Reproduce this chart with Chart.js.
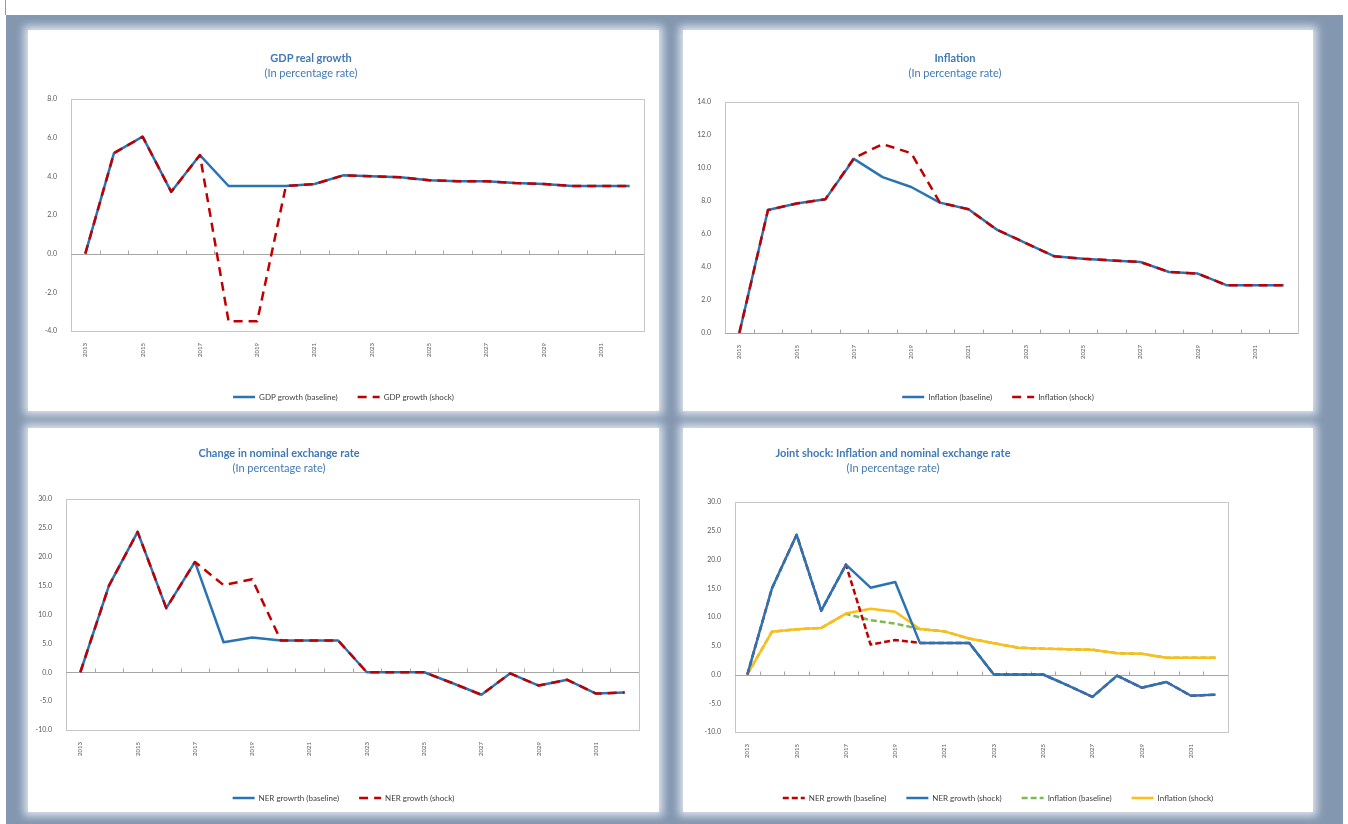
<!DOCTYPE html>
<html>
<head>
<meta charset="utf-8">
<script src="https://cdn.jsdelivr.net/npm/chart.js@4.4.1/dist/chart.umd.min.js"></script>
<style>
  body { margin:0; width:1348px; height:824px; background:#fff; position:relative; overflow:hidden; font-family: Lato, 'Open Sans', sans-serif; }
  #edge { position:absolute; left:5px; top:0; width:1px; height:15px; background:#9a9a9a; }
  #bg { position:absolute; left:6px; top:15px; width:1337px; height:809px; background:#8497b0; }
  .panel { position:absolute; background:#fff; box-shadow:0 0 8px 4px rgba(236,241,249,0.85); }
  .panel canvas { position:absolute; left:0; top:0; }
  .ttl { position:absolute; width:400px; margin-left:-200px; text-align:center; color:#4179b4; font-size:11px; line-height:15px; white-space:nowrap; }
  .ttl b { font-weight:700; }
</style>
</head>
<body>
<div id="edge"></div>
<div id="bg"></div>

<div class="panel" style="left:28px;top:30px;width:631px;height:381px">
  <canvas id="gdpChart" width="631" height="381"></canvas>
  <div class="ttl" style="left:283px;top:20px"><b>GDP real growth</b><br>(In percentage rate)</div>
</div>
<div class="panel" style="left:683px;top:30px;width:630px;height:381px">
  <canvas id="inflChart" width="630" height="381"></canvas>
  <div class="ttl" style="left:272px;top:20px"><b>Inflation</b><br>(In percentage rate)</div>
</div>
<div class="panel" style="left:28px;top:428px;width:631px;height:384px">
  <canvas id="nerChart" width="631" height="384"></canvas>
  <div class="ttl" style="left:251px;top:17px"><b>Change in nominal exchange rate</b><br>(In percentage rate)</div>
</div>
<div class="panel" style="left:683px;top:428px;width:630px;height:384px">
  <canvas id="jointChart" width="630" height="384"></canvas>
  <div class="ttl" style="left:210px;top:17px"><b>Joint shock: Inflation and nominal exchange rate</b><br>(In percentage rate)</div>
</div>

<script>
const years = ['2013', '2014', '2015', '2016', '2017', '2018', '2019', '2020', '2021', '2022',
  '2023', '2024', '2025', '2026', '2027', '2028', '2029', '2030', '2031', '2032'];

const gdpBaseline = [0.0, 5.2, 6.05, 3.2, 5.1, 3.5, 3.5, 3.5, 3.6, 4.05, 4.0, 3.95, 3.8, 3.75, 3.75, 3.65, 3.6, 3.5, 3.5, 3.5];
const gdpShock = [0.0, 5.2, 6.05, 3.2, 5.1, -3.5, -3.5, 3.5, 3.6, 4.05, 4.0, 3.95, 3.8, 3.75, 3.75, 3.65, 3.6, 3.5, 3.5, 3.5];

const inflBaseline = [0.0, 7.45, 7.85, 8.1, 10.55, 9.45, 8.85, 7.9, 7.5, 6.25, 5.45, 4.65, 4.5, 4.4, 4.3, 3.7, 3.6, 2.9, 2.9, 2.9];
const inflShock = [0.0, 7.45, 7.85, 8.1, 10.6, 11.45, 10.9, 7.9, 7.5, 6.25, 5.45, 4.65, 4.5, 4.4, 4.3, 3.7, 3.6, 2.9, 2.9, 2.9];

const nerBaseline = [0.0, 15.0, 24.3, 11.1, 19.1, 5.2, 6.0, 5.5, 5.5, 5.5, 0.0, 0.0, 0.0, -1.9, -3.9, -0.2, -2.3, -1.3, -3.7, -3.5];
const nerShock = [0.0, 15.0, 24.3, 11.1, 19.1, 15.1, 16.1, 5.5, 5.5, 5.5, 0.0, 0.0, 0.0, -1.9, -3.9, -0.2, -2.3, -1.3, -3.7, -3.5];

// y axis ticks: min, max, step
const gdpTicks = [-4, 8, 2];
const inflTicks = [0, 14, 2];
const nerTicks = [-10, 30, 5];

const BLUE = '#2a74b5';
const RED = '#c00000';
const GREEN = '#7dba4f';
const YELLOW = '#fdbf17';
const TEXT = '#595959';

Chart.defaults.font.family = 'Lato, "Open Sans", sans-serif';

// excel-like plot frame + zero axis with tick marks
const excelFrame = {
  id: 'excelFrame',
  beforeDatasetsDraw(chart) {
    const { ctx, chartArea: a, scales: { x, y } } = chart;
    ctx.save();
    ctx.lineWidth = 1;
    ctx.strokeStyle = '#c6c6c6';
    ctx.strokeRect(Math.round(a.left) + 0.5, Math.round(a.top) + 0.5, Math.round(a.right - a.left), Math.round(a.bottom - a.top));
    const y0 = Math.round(y.getPixelForValue(0)) + 0.5;
    const half = (x.getPixelForValue(1) - x.getPixelForValue(0)) / 2;
    ctx.strokeStyle = '#a6a6a6';
    ctx.beginPath();
    ctx.moveTo(a.left, y0);
    ctx.lineTo(a.right, y0);
    for (let i = 1; i < years.length; i++) {
      const px = Math.round(x.getPixelForValue(i) - half) + 0.5;
      ctx.moveTo(px, y0);
      ctx.lineTo(px, y0 - 4);
    }
    ctx.stroke();
    ctx.restore();
  }
};

function line(label, data, color, dash, order) {
  return {
    label, data,
    borderColor: color, backgroundColor: color,
    borderWidth: 2.5, borderDash: dash || [],
    pointRadius: 0, tension: 0, order,
    borderJoinStyle: 'round'
  };
}

function makeChart(id, datasets, ticks, box) {
  const [min, max, step] = ticks;
  return new Chart(document.getElementById(id), {
    type: 'line',
    data: { labels: years, datasets },
    plugins: [excelFrame],
    options: {
      responsive: false,
      animation: false,
      layout: { padding: { left: 0, top: box.top, right: 0, bottom: 0 } },
      plugins: {
        tooltip: { enabled: false },
        legend: {
          position: 'bottom',
          labels: {
            usePointStyle: true,
            pointStyle: 'line',
            pointStyleWidth: 22,
            padding: 20,
            font: { size: 8 },
            color: '#404040',
            generateLabels: chart => chart.data.datasets.map((d, i) => ({
              text: d.label,
              fillStyle: d.borderColor,
              strokeStyle: d.borderColor,
              lineWidth: d.borderWidth,
              lineDash: d.borderDash,
              pointStyle: 'line',
              fontColor: '#404040',
              hidden: false,
              datasetIndex: i
            }))
          }
        }
      },
      scales: {
        x: {
          offset: true,
          grid: { display: false },
          border: { display: false },
          ticks: {
            autoSkip: false, minRotation: 90, maxRotation: 90, padding: 4,
            font: { size: 6 }, color: TEXT,
            callback: (v, i) => (i % 2 === 0 ? years[i] : '')
          },
          afterFit: s => { s.height = box.xh; }
        },
        y: {
          min, max,
          grid: { display: false },
          border: { display: false },
          ticks: { stepSize: step, padding: 6, font: { size: 7 }, color: TEXT, callback: v => v.toFixed(1) },
          afterFit: s => { s.width = box.left; }
        },
        // empty right-hand axis, only reserves the blank margin right of the plot
        yRight: {
          position: 'right',
          grid: { display: false },
          border: { display: false },
          ticks: { display: false },
          afterFit: s => { s.width = box.right; }
        }
      }
    }
  });
}

makeChart('gdpChart', [
  line('GDP growth (baseline)', gdpBaseline, BLUE, null, 2),
  line('GDP growth (shock)', gdpShock, RED, [9, 6], 1)
], gdpTicks, { left: 43, top: 69, right: 15, xh: 42 });

makeChart('inflChart', [
  line('Inflation (baseline)', inflBaseline, BLUE, null, 2),
  line('Inflation (shock)', inflShock, RED, [9, 6], 1)
], inflTicks, { left: 42, top: 72, right: 15, xh: 40 });

makeChart('nerChart', [
  line('NER growrth (baseline)', nerBaseline, BLUE, null, 2),
  line('NER growth (shock)', nerShock, RED, [9, 6], 1)
], nerTicks, { left: 38, top: 71, right: 20, xh: 44 });

makeChart('jointChart', [
  line('NER growth (baseline)', nerBaseline, RED, [6, 3], 2),
  line('NER growth (shock)', nerShock, BLUE, null, 1),
  line('Inflation (baseline)', inflBaseline, GREEN, [6, 3], 4),
  line('Inflation (shock)', inflShock, YELLOW, null, 3)
], nerTicks, { left: 52, top: 74, right: 85, xh: 42 });
</script>
</body>
</html>
